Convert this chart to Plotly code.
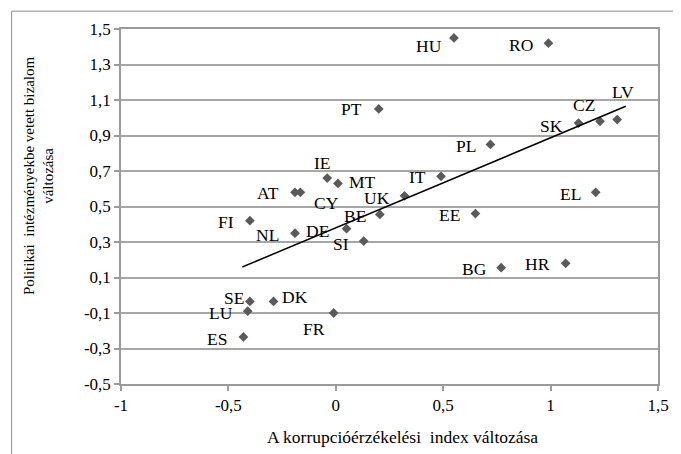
import plotly.graph_objects as go

countries = ["HU", "RO", "PT", "CZ", "LV", "SK", "PL", "IT", "UK", "IE", "MT", "AT", "CY",
             "BE", "DE", "SI", "FI", "NL", "SE", "DK", "LU", "FR", "ES", "EL", "EE", "BG", "HR"]
cpi_change = [0.55, 0.99, 0.20, 1.23, 1.31, 1.13, 0.72, 0.49, 0.32, -0.04, 0.01, -0.19, -0.165,
              0.205, 0.05, 0.13, -0.40, -0.19, -0.40, -0.29, -0.41, -0.01, -0.43, 1.21, 0.65, 0.77, 1.07]
trust_change = [1.45, 1.42, 1.05, 0.98, 0.99, 0.97, 0.85, 0.67, 0.56, 0.66, 0.63, 0.58, 0.58,
                0.455, 0.375, 0.305, 0.42, 0.35, -0.035, -0.035, -0.09, -0.10, -0.235, 0.58, 0.46, 0.155, 0.18]

# linear trendline as shown in the chart
trend_x = [-0.435, 1.35]
trend_slope = 0.507
trend_intercept = 0.380

# label offsets (pixels, right / down)
label_dx = [-25, -27, -27, -16, 6, -27, -24, -24, -28, -5, 25, -27, 26,
            -25, -29, -23, -24, -27, -16, 21, -27, -20, -26, -25, -26, -27, -28]
label_dy = [8, 2, 0, -16, -28, 3, 2, 1, 2, -15, -1, 1, 11,
            2, 2, 3, 1, 2, -3, -4, 2, 16, 2, 2, 1, 1, 1]

x_ticks = [-1, -0.5, 0, 0.5, 1, 1.5]
x_ticktext = ["-1", "-0,5", "0", "0,5", "1", "1,5"]
y_ticks = [-0.5, -0.3, -0.1, 0.1, 0.3, 0.5, 0.7, 0.9, 1.1, 1.3, 1.5]
y_ticktext = ["-0,5", "-0,3", "-0,1", "0,1", "0,3", "0,5", "0,7", "0,9", "1,1", "1,3", "1,5"]

x_title = "A korrupcióérzékelési\u00a0 index változása"
y_title = "Politikai\u00a0 intézményekbe vetett bizalom<br>változása"

FONT = "Liberation Serif"

trend_y = [trend_slope * v + trend_intercept for v in trend_x]

fig = go.Figure()
fig.add_trace(go.Scatter(x=cpi_change, y=trust_change, mode="markers",
                         marker=dict(symbol="diamond", size=7.5, color="#5a5a5a"),
                         hoverinfo="skip", showlegend=False))
fig.add_trace(go.Scatter(x=trend_x, y=trend_y, mode="lines",
                         line=dict(color="black", width=1.5),
                         hoverinfo="skip", showlegend=False))

annotations = []
for c, x, y, dx, dy in zip(countries, cpi_change, trust_change, label_dx, label_dy):
    annotations.append(dict(x=x, y=y, text=c, showarrow=False, xshift=dx, yshift=-dy,
                            xanchor="center", yanchor="middle",
                            font=dict(family=FONT, size=17.5, color="black")))
annotations.append(dict(xref="paper", yref="paper", x=0.524, y=-0.148, text=x_title,
                        xanchor="center", yanchor="middle",
                        showarrow=False, font=dict(family=FONT, size=17.5, color="black")))
annotations.append(dict(xref="paper", yref="paper", x=-0.1537, y=0.587, text=y_title,
                        xanchor="center", yanchor="middle",
                        textangle=-90, showarrow=False,
                        font=dict(family=FONT, size=15, color="black")))

shapes = [
    dict(type="line", xref="paper", yref="paper", x0=-0.2037, y0=1.0503, x1=-0.2037, y1=-0.4,
         line=dict(color="#8c8c8c", width=1)),
    dict(type="line", xref="paper", yref="paper", x0=-0.2037, y0=1.0503, x1=1.3, y1=1.0503,
         line=dict(color="#8c8c8c", width=1)),
]

# the page body adds an 8px offset; the figure is sized to fill the window
fig.update_layout(
    width=673, height=446,
    margin=dict(l=113, r=20, t=19, b=70),
    paper_bgcolor="white", plot_bgcolor="white",
    font=dict(family=FONT, size=17, color="black"),
    annotations=annotations, shapes=shapes,
    showlegend=False,
)
fig.update_xaxes(range=[-1, 1.5], tickvals=x_ticks, ticktext=x_ticktext,
                 showgrid=False, zeroline=False, showline=True, linecolor="#9a9a9a", linewidth=1.5,
                 mirror=True, ticks="outside", ticklen=5, tickcolor="#9a9a9a", tickwidth=1.5,
                 tickfont=dict(family=FONT, size=17, color="black"))
fig.update_yaxes(range=[-0.5, 1.5], tickvals=y_ticks, ticktext=y_ticktext,
                 showgrid=True, gridcolor="#a6a6a6", gridwidth=1.5, zeroline=False,
                 showline=True, linecolor="#9a9a9a", linewidth=1.5, mirror=True,
                 ticks="outside", ticklen=5, tickcolor="#9a9a9a", tickwidth=1.5,
                 tickfont=dict(family=FONT, size=17, color="black"))

fig.write_html("out.html")
